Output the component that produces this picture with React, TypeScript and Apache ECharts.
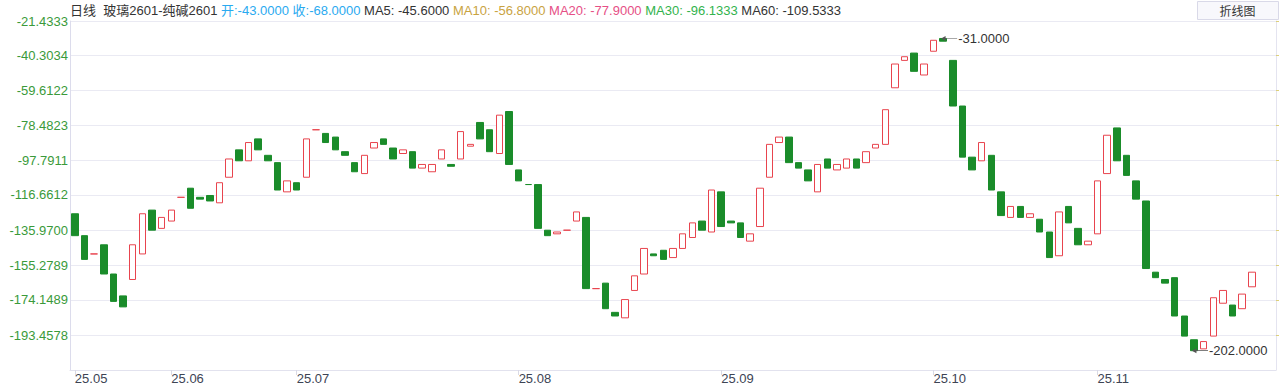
import React, { useEffect, useRef } from 'react';
import * as echarts from 'echarts';

// ---- data ----
const openValues = [
  -127, -139, -149, -144, -160, -172, -163, -149, -125, -135,
  -131, -118, -113, -118, -117, -121, -107, -92, -98, -86,
  -95, -99, -115, -110, -107, -81, -83, -85, -93, -99,
  -105, -91, -86, -91, -94, -93, -102, -104, -97, -100,
  -97, -90, -77, -81, -94, -71, -103, -111, -111, -136,
  -138, -136, -131, -129, -168, -165, -181, -184, -169, -160,
  -149, -147, -151, -146, -140, -131, -137, -115, -131, -132,
  -142, -134, -107, -88, -85, -99, -103, -115, -97, -103,
  -102, -97, -99, -91, -89, -58, -43, -39, -51, -38,
  -31, -43, -68, -96, -98, -95, -115, -129, -123, -129,
  -130, -137, -150, -123, -135, -144, -138, -105, -80, -95,
  -109, -120, -159, -163, -162, -183, -196, -201, -194, -176,
  -177, -179, -167,
];
const closeValues = [
  -139, -152, -149, -160, -175, -178, -144, -127, -136, -129,
  -125, -118, -124, -119, -120, -110, -97, -98, -88, -92,
  -98, -114, -109, -114, -86, -81, -88, -92, -95, -104,
  -95, -88, -89, -97, -92, -102, -100, -100, -92, -101,
  -82, -89, -86, -93, -73, -100, -109, -111, -135, -139,
  -137, -136, -126, -168, -168, -179, -183, -174, -161, -146,
  -150, -152, -146, -138, -132, -136, -114, -134, -132, -140,
  -138, -113, -89, -85, -99, -102, -109, -100, -102, -100,
  -97, -102, -93, -89, -70, -45, -41, -49, -45, -32,
  -32.5, -68, -96, -103, -88, -114, -128, -123, -129, -127,
  -137, -151, -126, -132, -144, -142, -109, -84, -98, -106,
  -119, -157, -162, -165, -183, -194, -202, -197, -173, -169,
  -183, -171, -159,
];
const slotCount = 125;
const monthStartIndex = [0, 10, 23, 46, 67, 89, 106];
const monthLabels = ['25.05', '25.06', '25.07', '25.08', '25.09', '25.10', '25.11'];
const yTickValues = [
  -21.4333, -40.3034, -59.6122, -78.4823, -97.7911,
  -116.6612, -135.97, -155.2789, -174.1489, -193.4578,
];
const yMin = -212.5713;
const yMax = -21.4333;
const headerName = '日线  玻璃2601-纯碱2601';
const headerOpen = -43;
const headerClose = -68;
const maLabels = ['MA5', 'MA10', 'MA20', 'MA30', 'MA60'];
const maValues = [-45.6, -56.8, -77.9, -96.1333, -109.5333];
const maColors = ['#333333', '#c9a33f', '#e64f86', '#33b34d', '#333333'];
const buttonLabel = '折线图';

const FONT = "'Liberation Sans', Arial, 'Noto Sans CJK SC', sans-serif";

export default function App() {
  const ref = useRef<HTMLDivElement>(null);

  useEffect(() => {
    if (!ref.current) return;
    const chart = echarts.init(ref.current, undefined, { renderer: 'svg' });

    const categories = Array.from({ length: slotCount }, (_, i) => String(i));
    const candleData = openValues.map((o, i) => {
      const c = closeValues[i];
      return [o, c, Math.min(o, c), Math.max(o, c)];
    });

    const rich: Record<string, any> = {
      n: { color: '#333333', fontSize: 13, fontWeight: 'normal', fontFamily: FONT },
      o: { color: '#2aaaf0', fontSize: 13, fontWeight: 'normal', fontFamily: FONT },
    };
    maColors.forEach((c, i) => {
      rich['m' + i] = { color: c, fontSize: 13, fontWeight: 'normal', fontFamily: FONT };
    });
    const headerText =
      `{n|${headerName} }{o|开:${headerOpen.toFixed(4)} 收:${headerClose.toFixed(4)}}` +
      maLabels.map((l, i) => ` {m${i}|${l}: ${maValues[i].toFixed(4)}}`).join('');

    const isMonthStart = (index: number) => monthStartIndex.indexOf(index) >= 0;

    chart.setOption({
      animation: false,
      backgroundColor: '#ffffff',
      title: {
        text: headerText,
        left: 70,
        top: 4,
        padding: 0,
        textStyle: { fontSize: 13, fontWeight: 'normal', fontFamily: FONT, rich },
      },
      graphic: [
        {
          type: 'group',
          left: 1197,
          top: 1,
          children: [
            {
              type: 'rect',
              shape: { x: 0, y: 0, width: 81, height: 18 },
              style: { fill: '#f8f8fc', stroke: '#d9d9e8', lineWidth: 1 },
            },
            {
              type: 'text',
              x: 40,
              y: 10,
              style: {
                text: buttonLabel,
                fill: '#333333',
                fontSize: 12,
                fontFamily: FONT,
                align: 'center',
                verticalAlign: 'middle',
              },
            },
          ],
        },
      ],
      grid: { left: 70, right: 4, top: 21, bottom: 15, containLabel: false },
      xAxis: {
        type: 'category',
        data: categories,
        boundaryGap: true,
        axisLine: { show: true, lineStyle: { color: '#e2e2ee' } },
        axisTick: {
          show: true,
          alignWithLabel: true,
          interval: (index: number) => isMonthStart(index),
          length: 5,
          lineStyle: { color: '#dadae6' },
        },
        axisLabel: {
          interval: (index: number) => isMonthStart(index),
          formatter: (_v: string, index: number) => {
            const k = monthStartIndex.indexOf(index);
            return k >= 0 ? monthLabels[k] : '';
          },
          align: 'left',
          margin: 2,
          color: '#3d4454',
          fontSize: 13,
          fontFamily: FONT,
        },
        splitLine: { show: false },
      },
      yAxis: [
        {
          type: 'value',
          position: 'left',
          min: yMin,
          max: yMax,
          scale: true,
          axisLine: { show: true, lineStyle: { color: '#dcdcec' } },
          axisTick: { show: false, customValues: yTickValues },
          axisLabel: {
            customValues: yTickValues,
            formatter: (v: number) => v.toFixed(4),
            color: '#3a9a3a',
            fontSize: 13,
            fontFamily: FONT,
            margin: 2,
          },
          splitLine: { show: true, lineStyle: { color: '#eaeaf3', width: 1 } },
        },
        {
          type: 'value',
          position: 'right',
          min: yMin,
          max: yMax,
          scale: true,
          axisLine: { show: true, lineStyle: { color: '#e4e4f0' } },
          axisTick: { show: true, customValues: yTickValues, length: 3, lineStyle: { color: '#ddd07a' } },
          axisLabel: { show: false, customValues: yTickValues },
          splitLine: { show: false },
        },
      ],
      series: [
        {
          type: 'candlestick',
          data: candleData,
          barWidth: 7,
          itemStyle: {
            color: '#ffffff',
            color0: '#1a8c2a',
            borderColor: '#e8444e',
            borderColor0: '#1a8c2a',
            borderWidth: 1,
          },
          markPoint: {
            symbol: 'path://M0,3 L5,0 L5,6 Z M5,2.6 L18,2.6 L18,3.4 L5,3.4 Z',
            symbolSize: [16, 5],
            symbolOffset: [6, 0],
            itemStyle: { color: '#555555' },
            label: {
              show: true,
              position: 'right',
              distance: 1,
              formatter: (p: any) => Number(p.value).toFixed(4),
              color: '#333333',
              fontSize: 13,
              fontFamily: FONT,
            },
            data: [
              { type: 'max', valueDim: 'highest' },
              { type: 'min', valueDim: 'lowest' },
            ],
          },
        },
      ],
    });

    return () => chart.dispose();
  }, []);

  return (
    <div
      ref={ref}
      style={{ position: 'fixed', left: 0, top: 0, width: 1280, height: 385, background: '#fff' }}
    />
  );
}
